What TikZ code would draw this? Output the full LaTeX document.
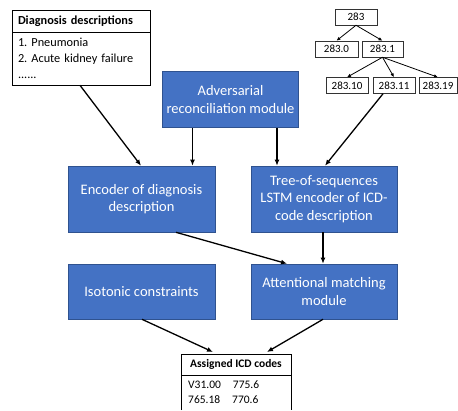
\documentclass[tikz,border=0pt]{standalone}
\usepackage{fontspec}
\setmainfont{Carlito}
\frenchspacing
\usetikzlibrary{arrows.meta,calc}
\definecolor{boxblue}{HTML}{4472C4}
\definecolor{boxedge}{HTML}{2F528F}
\tikzset{
  bluebox/.style={draw=boxedge, line width=0.6pt, fill=boxblue, text=white, inner sep=0pt,
    align=center, font=\fontsize{14.5}{17.5}\selectfont},
  whitebox/.style={draw=black, line width=0.6pt, fill=white, inner sep=0pt},
  codebox/.style={draw=black!80, line width=0.5pt, inner sep=0pt, minimum height=16pt,
    font=\fontsize{11}{12}\selectfont},
  arr/.style={-{Latex[length=6pt,width=5pt]}, line width=1.3pt},
  tarr/.style={-{Latex[length=4pt,width=3.5pt]}, line width=0.8pt},
}
\begin{document}
\begin{tikzpicture}[x=1pt,y=-1pt]
\useasboundingbox (0,0) rectangle (458,410);
% Diagnosis descriptions
\node[whitebox, minimum width=138pt, minimum height=22pt, font=\bfseries\fontsize{12.3}{13}\selectfont,
  text width=126pt, align=left] (diaghead) at (81,21) {Diagnosis descriptions};
\node[whitebox, minimum width=138pt, minimum height=53pt, text width=126pt, align=left,
  font=\fontsize{12.3}{16}\selectfont] (diagbody) at (81,58.5) {1. Pneumonia\\2. Acute kidney failure\\......};
% ICD tree
\node[codebox, minimum width=42pt] (c283) at (356,17) {283};
\node[codebox, minimum width=43pt] (c2830) at (336.5,49) {283.0};
\node[codebox, minimum width=41pt] (c2831) at (382.5,49) {283.1};
\node[codebox, minimum width=42pt] (c28310) at (347,85.5) {283.10};
\node[codebox, minimum width=42pt] (c28311) at (394,85.5) {283.11};
\node[codebox, minimum width=38pt] (c28319) at (438,85.5) {283.19};
\draw[tarr] (c283.south) -- (c2830.north);
\draw[tarr] (c283.south) -- (c2831.north);
\draw[tarr] (c2831.south) -- (c28310.north);
\draw[tarr] (c2831.south) -- (c28311.north);
\draw[tarr] (c2831.south) -- (c28319.north);
% Blue boxes
\node[bluebox, minimum width=136pt, minimum height=56pt] (adv) at (230.5,99.5) {Adversarial\\reconciliation module};
\node[bluebox, minimum width=147pt, minimum height=66pt] (enc) at (141.5,199) {Encoder of diagnosis\\description};
\node[bluebox, minimum width=146pt, minimum height=66pt] (tree) at (324,199) {Tree-of-sequences\\LSTM encoder of ICD-\\code description};
\node[bluebox, minimum width=147pt, minimum height=55pt] (iso) at (141.5,291.5) {Isotonic constraints};
\node[bluebox, minimum width=146pt, minimum height=55pt] (att) at (324,291.5) {Attentional matching\\module};
% Assigned ICD codes
\node[font=\bfseries\fontsize{11.5}{12}\selectfont, inner sep=0pt] (ahead) at (236,364) {Assigned ICD codes};
\node[font=\fontsize{11.5}{15}\selectfont, inner sep=0pt, align=left, anchor=north west] (acodes) at (188,381)
  {V31.00\hspace{12pt}775.6\\765.18\hspace{12pt}770.6};
\coordinate (abl) at (181,410);
\coordinate (abr) at (291,410);
\coordinate (atl) at (181,354);
\coordinate (atr) at (291,354);
\coordinate (adl) at (181,375);
\coordinate (adr) at (291,375);
\draw[line width=0.6pt] (abl) -- (atl) -- (atr) -- (abr);
\draw[line width=0.6pt] (adl) -- (adr);
% Connectors
\draw[arr] ([xshift=-1pt]diagbody.south) -- ([xshift=-0.5pt]enc.north);
\draw[arr] ([xshift=-38pt]adv.south) -- ([xshift=51pt]enc.north);
\draw[arr] ([xshift=46.5pt]adv.south) -- ([xshift=-47pt]tree.north);
\draw[arr] ([xshift=-11pt]c28311.south) -- ([xshift=1pt]tree.north);
\draw[arr] ([xshift=34.5pt]enc.south) -- ([xshift=-37pt]att.north);
\draw[arr] ([xshift=-1pt]tree.south) -- ([xshift=-1pt]att.north);
\draw[arr] ([xshift=0.5pt]iso.south) -- ($(atl)+(32,-2)$);
\draw[arr] ([xshift=-1pt]att.south) -- ($(atl)+(86,-2)$);
\end{tikzpicture}
\end{document}
